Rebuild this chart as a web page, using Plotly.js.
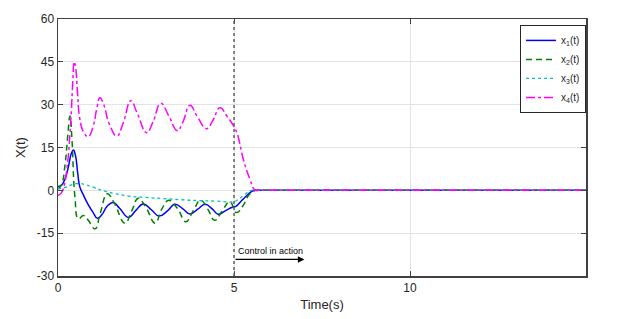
<!DOCTYPE html>
<html><head><meta charset="utf-8">
<script src="https://cdn.plot.ly/plotly-3.0.1.min.js"></script>
<style>html,body{margin:0;padding:0;background:#fff}#chart{width:617px;height:319px}</style>
</head><body><div id="chart"></div>
<script>
// x1(t) – blue solid
var t1 = [0,0.1,0.2,0.3,0.38,0.44,0.5,0.56,0.62,0.72,0.85,1.0,1.12,1.25,1.4,1.57,1.75,2.0,2.2,2.42,2.65,2.87,3.1,3.32,3.55,3.75,3.97,4.18,4.38,4.55,4.75,4.95,5.05,5.2,5.35,5.5,5.6,5.7,5.9,15];
var x1 = [1.3,1.8,4,8.5,13,14.1,12,6,1.2,-1.6,-4.8,-7.8,-9.8,-8.5,-5.5,-4.3,-6.3,-9.5,-7.2,-4.8,-6.8,-9,-7.3,-4.9,-6.5,-8.3,-6.6,-4.9,-6.5,-8.4,-7.2,-5.9,-5.6,-3.8,-2,-0.4,0,0,0,0];
// x2(t) – green dashed
var t2 = [0,0.1,0.2,0.27,0.34,0.4,0.48,0.58,0.72,0.86,1.05,1.2,1.4,1.6,1.9,2.1,2.28,2.5,2.76,2.95,3.15,3.4,3.63,3.85,4.05,4.25,4.45,4.65,4.88,5.07,5.25,5.4,5.5,5.6,5.7,5.9,15];
var x2 = [0.5,2,9,18,26,17,-2.2,-10,-8.8,-10.5,-13.5,-8,-1.2,-4.5,-11.5,-7,-2.8,-6,-11.5,-6.5,-3.5,-6.5,-11,-7,-3.5,-6.5,-10.5,-7.5,-4,-7.8,-5.5,-2,-0.8,0,0,0,0];
// x3(t) – cyan dotted
var t3 = [0,0.2,0.4,0.6,0.8,1.0,1.3,1.6,2.0,2.5,3.0,3.5,4.0,4.5,5.0,5.1,5.3,5.5,5.6,5.8,15];
var x3 = [0.5,1,2,2.4,1.9,1.1,-0.2,-1.1,-2,-2.5,-2.9,-3.3,-3.6,-3.8,-4,-3.4,-1.5,0,0,0,0];
// x4(t) – magenta dash-dot
var t4 = [0,0.1,0.2,0.25,0.3,0.34,0.38,0.42,0.46,0.5,0.55,0.62,0.72,0.86,1.0,1.1,1.19,1.3,1.45,1.67,1.85,2.07,2.25,2.52,2.7,2.92,3.15,3.39,3.55,3.75,3.95,4.22,4.4,4.6,4.8,5.0,5.1,5.27,5.45,5.6,5.7,5.9,15];
var x4 = [-1.8,-0.8,3,7.5,13,20,28,38,45,43,35,25,20.5,18.8,22.5,28.5,32.4,30,23.5,19,23.5,31.4,27,20.2,24,30.5,26,20.9,24,29.8,26,21.6,24.5,28.9,26,22.3,19.5,10.6,4,0,0,0,0];

var names = ['x<sub>1</sub>(t)','x<sub>2</sub>(t)','x<sub>3</sub>(t)','x<sub>4</sub>(t)'];
var xTicks = [0,5,10];
var yTicks = [-30,-15,0,15,30,45,60];
var controlTime = 5;
var arrowEnd = 7;
var arrowY = -24.2;
var labelY = -21.2;
var controlText = 'Control in action';

var FONT = 'Liberation Sans, Arial, Helvetica, sans-serif';
function tr(t, y, name, color, dash, width) {
  return {x: t, y: y, name: name, type: 'scatter', mode: 'lines',
    line: {color: color, dash: dash, width: width, shape: 'spline', smoothing: 1.3}};
}
var data = [
  tr(t1, x1, names[0], '#0000ff', 'solid', 1.5),
  tr(t2, x2, names[1], '#008000', '6px,4px', 1.5),
  tr(t3, x3, names[2], '#00bfbf', 'dot', 1.3),
  tr(t4, x4, names[3], '#ff00ff', 'dashdot', 1.5)
];
var axisCommon = {
  showline: true, linecolor: '#404040', linewidth: 1.5, mirror: 'ticks',
  ticks: 'inside', ticklen: 5, tickcolor: '#404040', tickwidth: 1,
  showgrid: true, gridcolor: '#e3e3e3', gridwidth: 1, zeroline: false,
  tickfont: {family: FONT, size: 12, color: '#262626'}
};
var layout = {
  width: 617, height: 319,
  margin: {l: 58, r: 31, t: 19, b: 43},
  paper_bgcolor: '#fff', plot_bgcolor: '#fff',
  font: {family: FONT, color: '#262626'},
  showlegend: true,
  legend: {x: 1, xanchor: 'right', y: 0.977, yanchor: 'top',
    bgcolor: '#fff', bordercolor: '#262626', borderwidth: 1,
    font: {family: FONT, size: 10, color: '#262626'},
    tracegroupgap: 0, itemwidth: 30},
  xaxis: Object.assign({}, axisCommon, {range: [0, 15], tickvals: xTicks, ticktext: xTicks.map(String),
    title: {text: 'Time(s)', font: {family: FONT, size: 13, color: '#262626'}, standoff: 6}}),
  yaxis: Object.assign({}, axisCommon, {range: [-30, 60], tickvals: yTicks, ticktext: yTicks.map(String),
    title: {text: 'X(t)', font: {family: FONT, size: 13, color: '#262626'}, standoff: 8}}),
  shapes: [{type: 'line', xref: 'x', yref: 'paper', x0: controlTime, x1: controlTime, y0: 0, y1: 1,
    line: {color: '#606060', width: 1.5, dash: 'dot'}, layer: 'above'}],
  annotations: [
    {xref: 'x', yref: 'y', x: arrowEnd, y: arrowY, axref: 'x', ayref: 'y', ax: controlTime, ay: arrowY,
     showarrow: true, arrowhead: 2, arrowsize: 1, arrowwidth: 1.3, arrowcolor: '#000', text: ''},
    {xref: 'x', yref: 'y', x: controlTime + 0.05, y: labelY, xanchor: 'left', yanchor: 'middle',
     showarrow: false, text: controlText, font: {family: FONT, size: 9, color: '#000'}}
  ]
};
Plotly.newPlot('chart', data, layout, {displayModeBar: false, staticPlot: true});
</script></body></html>
